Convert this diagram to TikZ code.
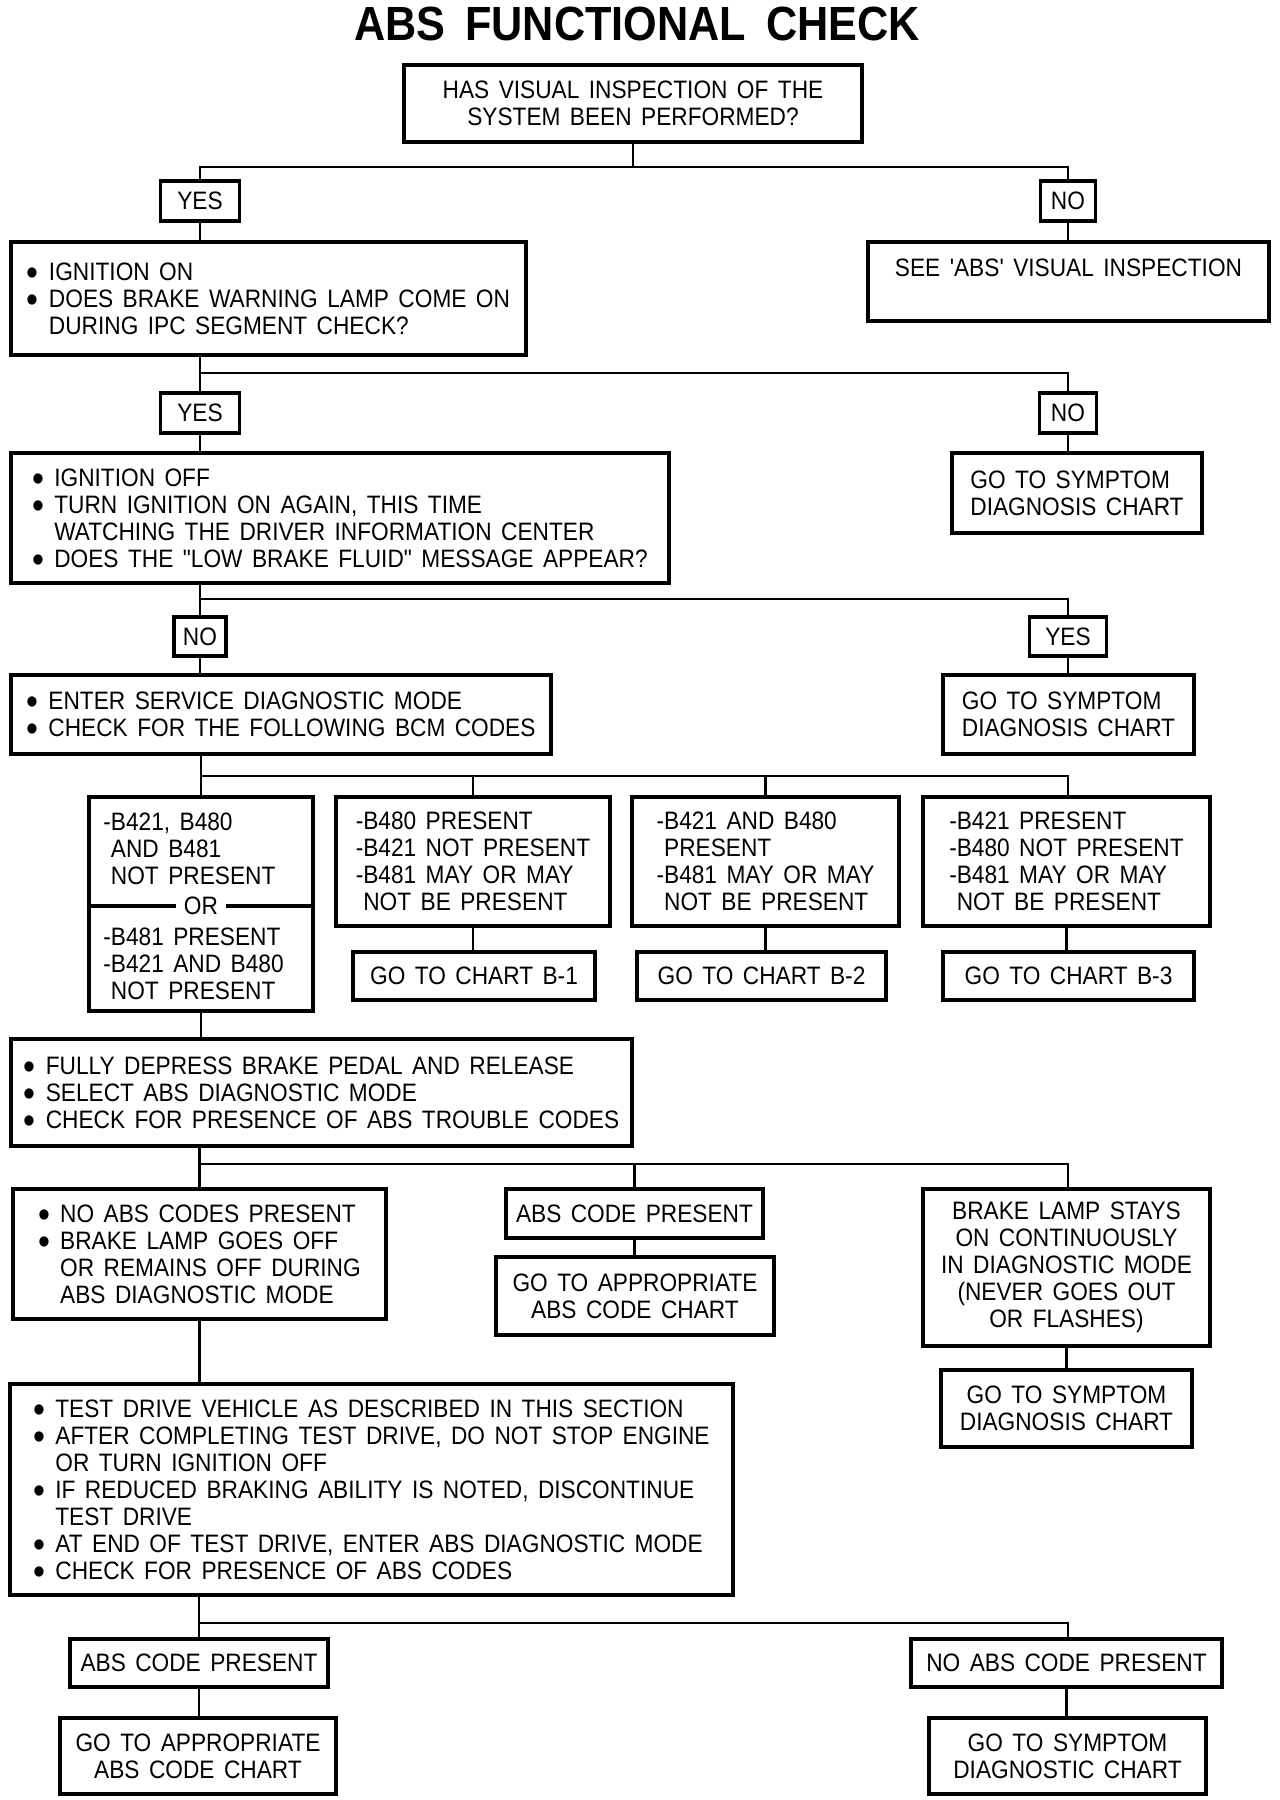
\documentclass[tikz,border=0pt]{standalone}
\usepackage{fontspec}
\setmainfont{Liberation Sans}[FakeStretch=0.9, WordSpace=1.5, Ligatures=TeXOff]
\usepackage{graphicx}
\newcommand\bodyfont{\fontsize{12.6pt}{13.5pt}\selectfont}
\newcommand\titlefont{\fontsize{24pt}{24pt}\selectfont\bfseries}
\newcommand\bul{\makebox[11pt][l]{\raisebox{-2.6pt}[0pt][0pt]{\scalebox{1.5}{\textbullet}}}}
\newcommand\ind{\hspace*{11pt}}
\newcommand\hy{\phantom{-}}
\begin{document}
\begin{tikzpicture}[x=0.5pt, y=-0.5pt,
  box/.style={draw, line width=1.7pt, inner xsep=4pt, inner ysep=0pt, font=\bodyfont, align=center},
  lbox/.style={box, align=left},
  txt/.style={inner sep=0pt, font=\bodyfont, align=left},
  conn/.style={line width=1.3pt}]
\useasboundingbox[fill=white] (0,0) rectangle (1280,1800);

\node[font=\titlefont] (title) at (637,24) {ABS\hspace{10pt}FUNCTIONAL\hspace{10pt}CHECK};

\node[box, minimum width=229pt, minimum height=38.5pt] (q1) at (633,103.5) {HAS VISUAL INSPECTION OF THE\\SYSTEM BEEN PERFORMED?};
\node[box, minimum width=39.5pt, minimum height=20pt] (yes1) at (200,201) {YES};
\node[box, minimum width=27.5pt, minimum height=20pt] (no1) at (1068,201) {NO};

\node[lbox, minimum width=257.5pt, minimum height=56.5pt] (q2) at (268.5,298.5) {\bul IGNITION ON\\\bul DOES BRAKE WARNING LAMP COME ON\\\ind DURING IPC SEGMENT CHECK?};
\node[box, minimum width=200.5pt, text height=17pt, text depth=22.5pt] (see) at (1068.5,281.5) {SEE 'ABS' VISUAL INSPECTION};

\node[box, minimum width=39.5pt, minimum height=20pt] (yes2) at (200,413) {YES};
\node[box, minimum width=28.5pt, minimum height=20pt] (no2) at (1068,413) {NO};

\node[lbox, minimum width=329pt, minimum height=65pt] (q3) at (340,518) {\bul IGNITION OFF\\\bul TURN IGNITION ON AGAIN, THIS TIME\\\ind WATCHING THE DRIVER INFORMATION CENTER\\\bul DOES THE "LOW BRAKE FLUID" MESSAGE APPEAR?};
\node[lbox, minimum width=125pt, minimum height=40pt] (sym1) at (1077,493) {GO TO SYMPTOM\\DIAGNOSIS CHART};

\node[box, minimum width=26pt, minimum height=19.5pt] (no3) at (200,636.5) {NO};
\node[box, minimum width=38.5pt, minimum height=19.5pt] (yes3) at (1068,636.5) {YES};

\node[lbox, minimum width=270pt, minimum height=39.5pt] (q4) at (281,714.5) {\bul ENTER SERVICE DIAGNOSTIC MODE\\\bul CHECK FOR THE FOLLOWING BCM CODES};
\node[lbox, minimum width=125.5pt, minimum height=39.5pt] (sym2) at (1068.5,714.5) {GO TO SYMPTOM\\DIAGNOSIS CHART};

% code boxes
\node[box, minimum width=112pt, minimum height=107pt] (boxA) at (201,904) {};
\node[txt, anchor=west] (boxAtop) at (103,848.5) {-B421, B480\\\hy AND B481\\\hy NOT PRESENT};
\node[txt, inner xsep=4pt] (orlbl) at (201,906) {OR};
\node[txt, anchor=west] (boxAbot) at (103,963.5) {-B481 PRESENT\\-B421 AND B480\\\hy NOT PRESENT};
\draw[line width=1.7pt] (boxA.west |- orlbl) -- (orlbl.west);
\draw[line width=1.7pt] (orlbl.east) -- (boxA.east |- orlbl);

\node[lbox, minimum width=137pt, minimum height=64.5pt] (boxB) at (473,861.5) {-B480 PRESENT\\-B421 NOT PRESENT\\-B481 MAY OR MAY\\\hy NOT BE PRESENT};
\node[lbox, minimum width=133.5pt, minimum height=64.5pt] (boxC) at (765.5,861.5) {-B421 AND B480\\\hy PRESENT\\-B481 MAY OR MAY\\\hy NOT BE PRESENT};
\node[lbox, minimum width=143.5pt, minimum height=64.5pt] (boxD) at (1066.5,861.5) {-B421 PRESENT\\-B480 NOT PRESENT\\-B481 MAY OR MAY\\\hy NOT BE PRESENT};

\node[box, minimum width=121pt, minimum height=24pt] (chB1) at (474,976) {GO TO CHART B-1};
\node[box, minimum width=124.5pt, minimum height=24pt] (chB2) at (761.5,976) {GO TO CHART B-2};
\node[box, minimum width=125.5pt, minimum height=24pt] (chB3) at (1068.5,976) {GO TO CHART B-3};

\node[lbox, minimum width=310.5pt, minimum height=53.5pt] (q5) at (321.5,1092.5) {\bul FULLY DEPRESS BRAKE PEDAL AND RELEASE\\\bul SELECT ABS DIAGNOSTIC MODE\\\bul CHECK FOR PRESENCE OF ABS TROUBLE CODES};

\node[lbox, minimum width=186.5pt, minimum height=65pt] (box6) at (199.5,1254) {\bul NO ABS CODES PRESENT\\\bul BRAKE LAMP GOES OFF\\\ind OR REMAINS OFF DURING\\\ind ABS DIAGNOSTIC MODE};
\node[box, minimum width=128.5pt, minimum height=24.5pt] (acp1) at (634.5,1213.5) {ABS CODE PRESENT};
\node[box, minimum width=139pt, minimum height=39pt] (gta1) at (635,1296) {GO TO APPROPRIATE\\ABS CODE CHART};
\node[box, minimum width=143.5pt, minimum height=78.5pt] (brake) at (1066.5,1267.5) {BRAKE LAMP STAYS\\ON CONTINUOUSLY\\IN DIAGNOSTIC MODE\\(NEVER GOES OUT\\OR FLASHES)};
\node[box, minimum width=125.5pt, minimum height=38.5pt] (sym3) at (1066.5,1408.5) {GO TO SYMPTOM\\DIAGNOSIS CHART};

\node[lbox, minimum width=361.5pt, minimum height=105.5pt] (q7) at (371.5,1489.5) {\bul TEST DRIVE VEHICLE AS DESCRIBED IN THIS SECTION\\\bul AFTER COMPLETING TEST DRIVE, DO NOT STOP ENGINE\\\ind OR TURN IGNITION OFF\\\bul IF REDUCED BRAKING ABILITY IS NOTED, DISCONTINUE\\\ind TEST DRIVE\\\bul AT END OF TEST DRIVE, ENTER ABS DIAGNOSTIC MODE\\\bul CHECK FOR PRESENCE OF ABS CODES};

\node[box, minimum width=129pt, minimum height=24pt] (acp2) at (199,1663) {ABS CODE PRESENT};
\node[box, minimum width=155.5pt, minimum height=24pt] (nacp) at (1066.5,1663) {NO ABS CODE PRESENT};
\node[box, minimum width=138pt, minimum height=38pt] (gta2) at (198,1756) {GO TO APPROPRIATE\\ABS CODE CHART};
\node[box, minimum width=138.5pt, minimum height=38pt] (symd) at (1067.5,1756) {GO TO SYMPTOM\\DIAGNOSTIC CHART};

% branch coordinates
\coordinate (b1L) at (200,167); \coordinate (b1R) at (1068,167);
\coordinate (b2L) at (200,373); \coordinate (b2R) at (1068,373);
\coordinate (b3L) at (200,599); \coordinate (b3R) at (1068,599);
\coordinate (b4L) at (200,776); \coordinate (b4R) at (1068,776);
\coordinate (b5L) at (200,1164); \coordinate (b5R) at (1068,1164);
\coordinate (b6L) at (200,1623); \coordinate (b6R) at (1068,1623);

% connectors
\draw[conn] (q1.south) -- (q1.south |- b1L);
\draw[conn] (yes1.north) -- (b1L) -- (b1R) -- (no1.north);
\draw[conn] (yes1.south) -- (yes1.south |- q2.north);
\draw[conn] (no1.south) -- (no1.south |- see.north);

\draw[conn] (yes2.north) -- (yes2.north |- q2.south);
\draw[conn] (b2L) -- (b2R) -- (no2.north);
\draw[conn] (yes2.south) -- (yes2.south |- q3.north);
\draw[conn] (no2.south) -- (no2.south |- sym1.north);

\draw[conn] (no3.north) -- (no3.north |- q3.south);
\draw[conn] (b3L) -- (b3R) -- (yes3.north);
\draw[conn] (no3.south) -- (no3.south |- q4.north);
\draw[conn] (yes3.south) -- (yes3.south |- sym2.north);

\draw[conn] (boxA.north) -- (boxA.north |- q4.south);
\draw[conn] (b4L) -- (b4R) -- (boxD.north -| b4R);
\draw[conn] (boxB.north) -- (boxB.north |- b4L);
\draw[conn] (boxC.north) -- (boxC.north |- b4L);
\draw[conn] (boxB.south) -- (boxB.south |- chB1.north);
\draw[conn] (boxC.south) -- (boxC.south |- chB2.north);
\draw[conn] (boxD.south) -- (boxD.south |- chB3.north);
\draw[conn] (boxA.south) -- (boxA.south |- q5.north);

\draw[conn] (box6.north) -- (box6.north |- q5.south);
\draw[conn] (b5L) -- (b5R) -- (brake.north -| b5R);
\draw[conn] (acp1.north) -- (acp1.north |- b5L);
\draw[conn] (acp1.south) -- (acp1.south |- gta1.north);
\draw[conn] (brake.south) -- (brake.south |- sym3.north);
\draw[conn] (box6.south) -- (box6.south |- q7.north);

\draw[conn] (acp2.north) -- (acp2.north |- q7.south);
\draw[conn] (b6L) -- (b6R) -- (nacp.north -| b6R);
\draw[conn] (acp2.south) -- (acp2.south |- gta2.north);
\draw[conn] (nacp.south) -- (nacp.south |- symd.north);
\end{tikzpicture}
\end{document}
